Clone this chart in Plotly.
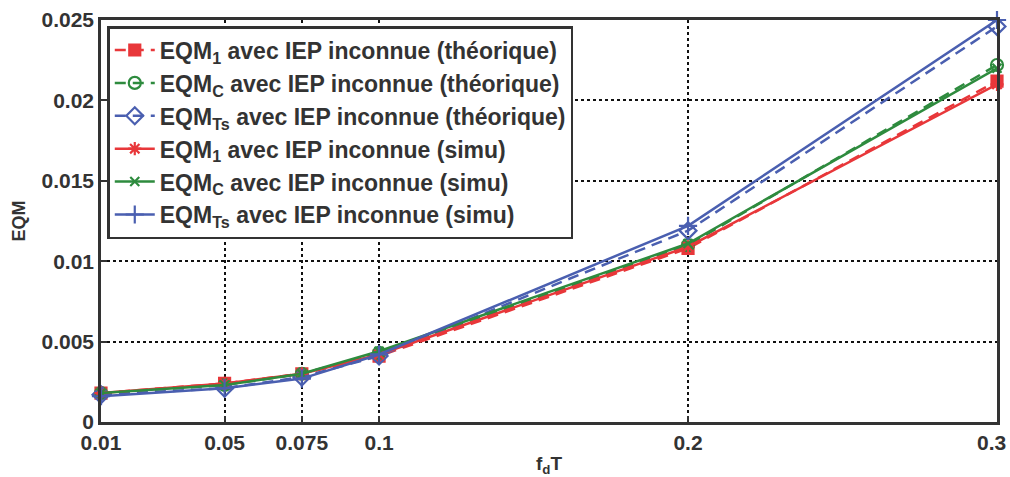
import plotly.graph_objects as go

fdT = [0.01, 0.05, 0.075, 0.1, 0.2, 0.3]

eqm1_theo = [0.0018, 0.0024, 0.0030, 0.0041, 0.0108, 0.0212]
eqmc_theo = [0.0018, 0.0023, 0.0030, 0.0043, 0.0110, 0.0222]
eqmts_theo = [0.0017, 0.0021, 0.0028, 0.0041, 0.0119, 0.0246]
eqm1_simu = [0.0018, 0.0024, 0.0030, 0.0042, 0.0109, 0.0210]
eqmc_simu = [0.0018, 0.0023, 0.0030, 0.0044, 0.0111, 0.0220]
eqmts_simu = [0.0016, 0.0021, 0.0027, 0.0042, 0.0122, 0.0250]

names = [
    "EQM<sub>1</sub> avec IEP inconnue (théorique)",
    "EQM<sub>C</sub> avec IEP inconnue (théorique)",
    "EQM<sub>Ts</sub> avec IEP inconnue (théorique)",
    "EQM<sub>1</sub> avec IEP inconnue (simu)",
    "EQM<sub>C</sub> avec IEP inconnue (simu)",
    "EQM<sub>Ts</sub> avec IEP inconnue (simu)",
]

xticks = [0.01, 0.05, 0.075, 0.1, 0.2, 0.3]
xticklabels = ["0.01", "0.05", "0.075", "0.1", "0.2", "0.3"]
yticks = [0, 0.005, 0.01, 0.015, 0.02, 0.025]
yticklabels = ["0", "0.005", "0.01", "0.015", "0.02", "0.025"]

RED = "#e8373a"
GREEN = "#2e8b3e"
BLUE = "#4a5fb0"
TXT = "#333333"

series = [
    (eqm1_theo, RED, "11px,7px", "square", 11),
    (eqmc_theo, GREEN, "11px,7px", "circle-open", 12),
    (eqmts_theo, BLUE, "11px,7px", "diamond-open", 13),
    (eqm1_simu, RED, "solid", "asterisk-open", 11),
    (eqmc_simu, GREEN, "solid", "x-thin-open", 9),
    (eqmts_simu, BLUE, "solid", "cross-thin-open", 13),
]

fig = go.Figure()
for (vals, col, dash, sym, sz), nm in zip(series, names):
    fig.add_trace(go.Scatter(
        x=fdT, y=vals, name=nm, mode="lines+markers",
        line=dict(color=col, width=2.5, dash=dash),
        marker=dict(symbol=sym, size=sz, color=col,
                    line=dict(color=col, width=2.2)),
        cliponaxis=False,
    ))

tickfont = dict(family="Liberation Sans", size=21, color=TXT, weight="bold")

axis_common = dict(
    showline=True, linecolor=TXT, linewidth=2.5, mirror=True,
    ticks="inside", ticklen=6, tickwidth=2, tickcolor=TXT,
    showgrid=True, gridcolor="#111111", griddash="dot", gridwidth=1.8,
    zeroline=False, automargin=False,
    tickfont=tickfont,
)

# last x tick label sits against the right edge (drawn as annotation, right-aligned)
shown_xlabels = xticklabels[:-1] + [""]

fig.update_layout(
    width=1010, height=477,
    margin=dict(l=101, r=13, t=20, b=55),
    paper_bgcolor="white", plot_bgcolor="white",
    font=dict(family="Liberation Sans", color=TXT),
    xaxis=dict(range=[0.01, 0.3], tickvals=xticks, ticktext=shown_xlabels,
               title=dict(text="f<sub>d</sub>T", standoff=4,
                          font=dict(size=19, weight="bold", color=TXT)),
               ticklabelstandoff=0,
               **axis_common),
    yaxis=dict(range=[0, 0.025], tickvals=yticks, ticktext=yticklabels,
               title=dict(text="EQM", standoff=12,
                          font=dict(size=18, weight="bold", color=TXT)),
               **axis_common),
    legend=dict(x=0.007, y=0.985, xanchor="left", yanchor="top",
                bgcolor="white", bordercolor=TXT, borderwidth=2.5,
                font=dict(family="Liberation Sans", size=23, color=TXT, weight="bold"),
                itemwidth=40),
    showlegend=True,
    annotations=[dict(
        x=xticks[-1], xref="x", y=0, yref="paper",
        text=xticklabels[-1], showarrow=False,
        xanchor="right", yanchor="top", xshift=11, yshift=-7,
        font=tickfont,
    )],
)

fig.write_html("out.html")
